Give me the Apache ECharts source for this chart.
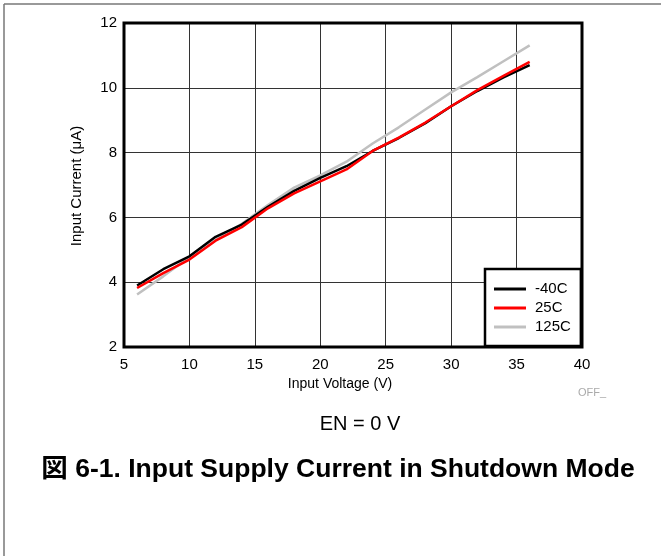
<!DOCTYPE html>
<html>
<head>
<meta charset="utf-8">
<script src="https://cdn.jsdelivr.net/npm/echarts@6/dist/echarts.min.js"></script>
<style>
html,body{margin:0;padding:0;background:#fff;}
#c{width:661px;height:556px;}
</style>
</head>
<body>
<div id="c"></div>
<script>
const voltage = [6, 8, 10, 12, 14, 16, 18, 20, 22, 24, 26, 28, 30, 32, 34, 36];
const iMinus40 = [3.90, 4.40, 4.80, 5.40, 5.78, 6.33, 6.82, 7.22, 7.58, 8.05, 8.45, 8.90, 9.43, 9.90, 10.32, 10.70];
const i25 = [3.82, 4.28, 4.70, 5.28, 5.70, 6.28, 6.74, 7.11, 7.48, 8.05, 8.46, 8.92, 9.43, 9.93, 10.37, 10.80];
const i125 = [3.62, 4.18, 4.78, 5.30, 5.80, 6.38, 6.92, 7.30, 7.72, 8.28, 8.78, 9.32, 9.86, 10.33, 10.82, 11.31];
const seriesNames = ['-40C', '25C', '125C'];
const xTitle = 'Input Voltage (V)';
const yTitle = 'Input Current (μA)';
const note = 'OFF_';
const condition = 'EN = 0 V';
const caption = '図 6-1. Input Supply Current in Shutdown Mode';

const FONT = "'Liberation Sans', Arial, sans-serif";
const pair = arr => voltage.map((v, i) => [v, arr[i]]);

const chart = echarts.init(document.getElementById('c'), null, {renderer: 'canvas'});
const lineS = (name, data, color, z) => ({
  name, type: 'line', data: pair(data), symbol: 'none', smooth: false, z,
  lineStyle: {color, width: 2.5}, itemStyle: {color}
});
chart.setOption({
  animation: false,
  backgroundColor: '#fff',
  grid: {left: 124, top: 23, right: 79, bottom: 209, show: true, borderColor: '#000', borderWidth: 3, backgroundColor: 'transparent', z: 3},
  xAxis: {
    type: 'value', min: 5, max: 40, interval: 5,
    axisLine: {show: false}, axisTick: {show: false},
    axisLabel: {color: '#000', fontSize: 15, fontFamily: FONT, margin: 10},
    splitLine: {show: true, lineStyle: {color: '#333', width: 1}}
  },
  yAxis: {
    type: 'value', min: 2, max: 12, interval: 2,
    axisLine: {show: false}, axisTick: {show: false},
    axisLabel: {color: '#000', fontSize: 15, fontFamily: FONT, margin: 7},
    splitLine: {show: true, lineStyle: {color: '#333', width: 1}}
  },
  legend: {
    data: seriesNames, orient: 'vertical', left: 485, top: 269,
    icon: 'rect',
    padding: [12, 10, 11, 9], itemGap: 3, itemWidth: 32, itemHeight: 3,
    backgroundColor: '#fff', borderColor: '#000', borderWidth: 2.5,
    textStyle: {color: '#000', fontSize: 15, fontFamily: FONT, lineHeight: 16, padding: [0,0,0,4]},
    z: 10
  },
  series: [
    lineS('125C', i125, '#c0c0c0', 4),
    lineS('-40C', iMinus40, '#000000', 5),
    lineS('25C', i25, '#ff0000', 6)
  ],
  graphic: [
    {type: 'line', shape: {x1: 4, y1: 4, x2: 661, y2: 4}, style: {stroke: '#777', lineWidth: 1.5}},
    {type: 'line', shape: {x1: 4, y1: 4, x2: 4, y2: 556}, style: {stroke: '#777', lineWidth: 1.5}},
    {type: 'text', x: 340, y: 384, style: {text: xTitle, fill: '#000', font: '14px ' + FONT, textAlign: 'center', textVerticalAlign: 'middle'}},
    {type: 'text', x: 77, y: 186, rotation: Math.PI / 2, style: {text: yTitle, fill: '#000', font: '15px ' + FONT, textAlign: 'center', textVerticalAlign: 'middle'}},
    {type: 'text', x: 592, y: 393, style: {text: note, fill: '#aaa', font: '11px ' + FONT, textAlign: 'center', textVerticalAlign: 'middle'}},
    {type: 'text', x: 360, y: 424, style: {text: condition, fill: '#000', font: '20px ' + FONT, textAlign: 'center', textVerticalAlign: 'middle'}},
    {type: 'text', x: 338, y: 470, style: {text: caption, fill: '#000', font: "bold 26.5px 'Liberation Sans', 'Noto Sans CJK JP', sans-serif", textAlign: 'center', textVerticalAlign: 'middle'}}
  ]
});
</script>
</body>
</html>
